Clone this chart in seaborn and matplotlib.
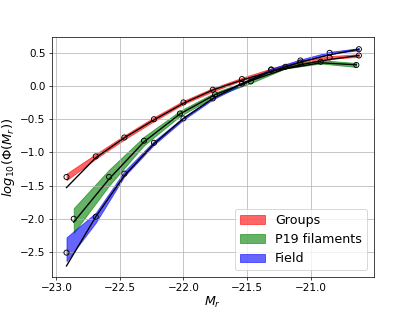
import numpy as np
import pandas as pd
import matplotlib
matplotlib.use('Agg')
import matplotlib.pyplot as plt
import seaborn as sns

# %% Data
# Groups (red) and Field (blue) share the same magnitude bins
mag_bins = [-22.92, -22.69, -22.465, -22.232, -22.0, -21.769, -21.54, -21.31, -21.08, -20.85, -20.62]
groups_phi = [-1.37, -1.06, -0.775, -0.50, -0.247, -0.056, 0.105, 0.245, 0.355, 0.43, 0.46]
groups_err = [0.05, 0.035, 0.03, 0.03, 0.025, 0.025, 0.02, 0.02, 0.02, 0.02, 0.02]
groups_fit = [-1.53, -1.08, -0.78, -0.51, -0.26, -0.06, 0.09, 0.22, 0.32, 0.40, 0.46]

field_phi = [-2.51, -1.97, -1.32, -0.855, -0.488, -0.187, 0.035, 0.25, 0.385, 0.50, 0.555]
field_err_lo = [0.13, 0.09, 0.04, 0.03, 0.02, 0.015, 0.015, 0.015, 0.015, 0.015, 0.015]
field_err_hi = [0.23, 0.06, 0.035, 0.025, 0.02, 0.015, 0.015, 0.015, 0.015, 0.015, 0.015]
field_fit = [-2.71, -1.97, -1.35, -0.87, -0.49, -0.19, 0.04, 0.22, 0.36, 0.47, 0.555]

# P19 filaments (green) use their own bins
fil_bins = [-22.863, -22.585, -22.31, -22.027, -21.751, -21.47, -21.198, -20.92, -20.64]
fil_phi = [-2.0, -1.37, -0.823, -0.413, -0.125, 0.07, 0.29, 0.365, 0.317]
fil_err_lo = [0.21, 0.13, 0.07, 0.04, 0.03, 0.025, 0.025, 0.025, 0.03]
fil_err_hi = [0.16, 0.11, 0.06, 0.04, 0.03, 0.025, 0.025, 0.025, 0.03]
fil_fit = [-2.05, -1.40, -0.84, -0.42, -0.13, 0.08, 0.26, 0.35, 0.32]

samples = {
    'Groups': (mag_bins, groups_phi, groups_err, groups_err, groups_fit, 'red'),
    'P19 filaments': (fil_bins, fil_phi, fil_err_lo, fil_err_hi, fil_fit, 'green'),
    'Field': (mag_bins, field_phi, field_err_lo, field_err_hi, field_fit, 'blue'),
}

# %% Plot
fig, ax = plt.subplots(figsize=(415 / 65, 311 / 65), dpi=65)

for name, (x, y, lo, hi, fit, col) in samples.items():
    df = pd.DataFrame({'M': x, 'phi': y, 'fit': fit})
    lower = np.array(y) - np.array(lo)
    upper = np.array(y) + np.array(hi)
    ax.fill_between(df['M'], lower, upper, color=col, alpha=0.6, label=name)
    sns.lineplot(data=df, x='M', y='fit', color='k', lw=1.5, sort=False, ax=ax)
    sns.scatterplot(data=df, x='M', y='phi', marker='o', s=32, facecolor='none',
                    edgecolor='k', linewidth=1, ax=ax, zorder=3)

ax.grid(True)
ax.tick_params(labelsize=11.5)
ax.set_xlabel(r'$M_r$', fontsize=14, labelpad=2)
ax.set_ylabel(r'$log_{10}(\Phi(M_r))$', fontsize=14.5)
ax.legend(loc='lower right', fontsize=14)

plt.savefig('out.png', dpi=65)
